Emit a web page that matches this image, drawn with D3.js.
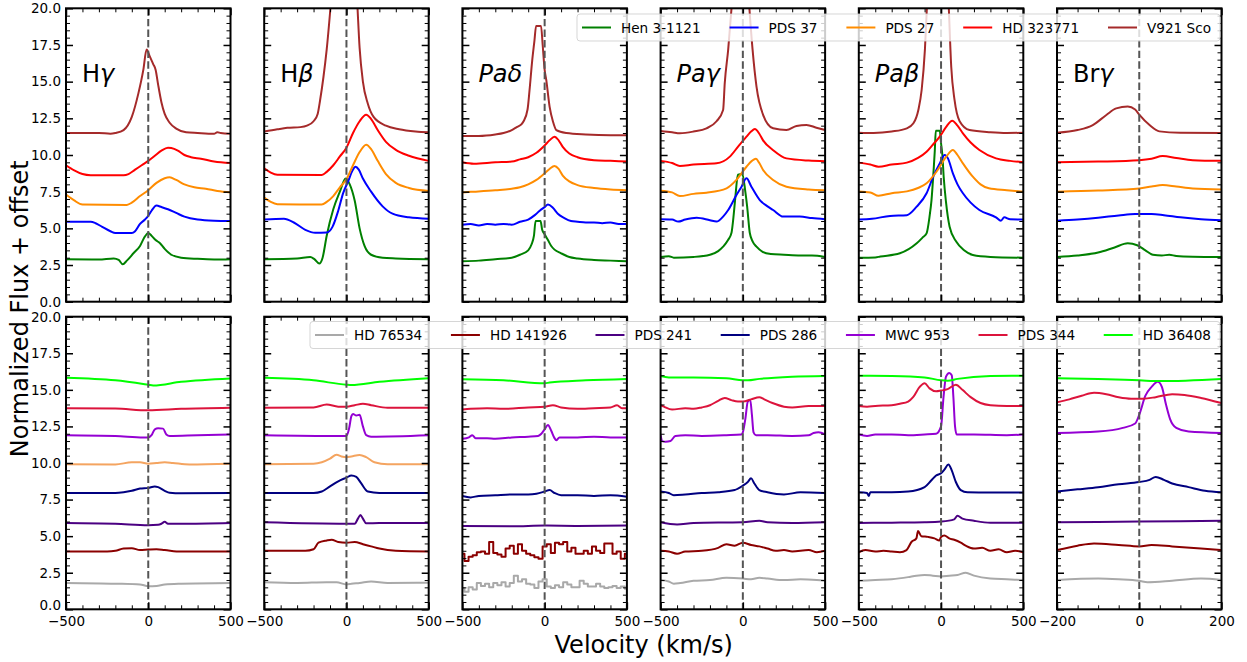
<!DOCTYPE html>
<html>
<head>
<meta charset="utf-8">
<script src="https://cdn.jsdelivr.net/npm/d3@7"></script>
<style>
  body { margin: 0; background: #fff; }
  svg { display: block; font-family: "DejaVu Sans", sans-serif; }
</style>
</head>
<body>
<svg id="chart" width="1247" height="662"></svg>
<script>
// ---------------- data: [velocity km/s, normalized flux + offset] ----------------
const lineTitlesPlain  = ["H", "H", "", "", "", "Br"];
const lineTitlesItalic = ["γ", "β", "Paδ", "Paγ", "Paβ", "γ"];
const velocityLimits   = [500, 500, 500, 500, 500, 200];
const yTickValues      = [0, 2.5, 5, 7.5, 10, 12.5, 15, 17.5, 20];

const topStars  = ["Hen 3-1121", "PDS 37", "PDS 27", "HD 323771", "V921 Sco"];
const topColors = ["green", "blue", "darkorange", "red", "brown"];
const bottomStars  = ["HD 76534", "HD 141926", "PDS 241", "PDS 286", "MWC 953", "PDS 344", "HD 36408"];
const bottomColors = ["darkgray", "darkred", "indigo", "navy", "darkviolet", "crimson", "lime"];
const extraColor = "sandybrown";

// H gamma, upper group
const HG_HEN  = [[-500,2.9],[-300,2.88],[-210,2.95],[-180,2.85],[-155,2.55],[-130,2.8],[-90,3.3],[-50,3.8],[-20,4.45],[0,4.68],[20,4.5],[45,4.2],[70,4.0],[100,3.6],[140,3.2],[200,3.0],[300,2.92],[400,2.88],[500,2.9]];
const HG_P37  = [[-500,5.45],[-350,5.45],[-320,5.35],[-280,5.1],[-230,4.8],[-200,4.68],[-100,4.68],[-80,4.8],[-50,5.3],[-20,5.6],[0,5.85],[20,6.2],[50,6.55],[80,6.45],[120,6.3],[170,6.05],[220,5.8],[300,5.6],[400,5.52],[500,5.5]];
const HG_P27  = [[-500,7.3],[-450,6.9],[-400,6.62],[-130,6.6],[-100,6.75],[-50,7.2],[0,7.6],[50,8.1],[100,8.42],[130,8.48],[170,8.3],[220,8.0],[280,7.8],[350,7.7],[420,7.55],[500,7.45]];
const HG_HD3  = [[-500,9.3],[-450,8.95],[-400,8.7],[-350,8.62],[-150,8.62],[-120,8.7],[-80,9.0],[-40,9.3],[0,9.6],[40,9.95],[80,10.3],[120,10.5],[140,10.48],[180,10.3],[220,10.0],[260,9.85],[320,9.75],[400,9.55],[500,9.45]];
const HG_V921 = [[-500,11.5],[-300,11.5],[-230,11.45],[-200,11.5],[-150,11.7],[-100,12.6],[-60,14.2],[-30,15.8],[-10,17.2],[10,16.7],[30,16.2],[45,15.8],[60,14.8],[80,13.6],[100,12.8],[130,12.2],[170,11.8],[230,11.55],[300,11.5],[400,11.45],[420,11.55],[440,11.5],[500,11.45]];

// H beta, upper group
const HB_HEN  = [[-500,2.9],[-300,2.95],[-220,3.05],[-195,2.9],[-165,2.6],[-145,3.0],[-120,4.5],[-80,6.3],[-40,7.5],[-5,8.4],[20,8.0],[50,6.9],[80,5.0],[110,3.8],[150,3.2],[220,3.0],[300,2.95],[500,2.9]];
const HB_P37  = [[-500,5.6],[-380,5.65],[-320,5.4],[-250,4.9],[-190,4.7],[-120,4.72],[-85,5.1],[-50,6.2],[-20,7.4],[10,8.2],[35,8.9],[55,9.2],[75,9.0],[100,8.4],[150,7.5],[220,6.5],[280,6.0],[380,5.75],[500,5.65]];
const HB_P27  = [[-500,7.1],[-460,6.8],[-420,6.65],[-150,6.62],[-120,6.8],[-80,7.2],[-40,7.8],[0,8.35],[40,9.3],[80,10.2],[120,10.7],[150,10.4],[190,9.6],[240,8.7],[300,8.1],[380,7.75],[500,7.55]];
const HB_HD3  = [[-500,9.1],[-460,8.8],[-420,8.65],[-150,8.64],[-120,8.85],[-80,9.3],[-40,9.9],[0,10.5],[40,11.5],[80,12.3],[120,12.75],[150,12.45],[190,11.7],[240,10.9],[300,10.35],[380,9.95],[500,9.6]];
const HB_V921 = [[-500,11.6],[-420,11.75],[-360,11.85],[-280,11.9],[-240,12.0],[-200,12.3],[-175,12.8],[-160,13.75],[-140,15.3],[-120,17.2],[-95,20.3],[-60,25],[0,28],[40,25],[65,20.5],[80,17.3],[100,15.0],[130,13.5],[165,12.6],[240,12.0],[320,11.75],[420,11.6],[500,11.55]];

// Pa delta, upper group
const PD_HEN  = [[-500,2.75],[-400,2.8],[-300,2.9],[-200,3.0],[-150,3.2],[-100,3.5],[-80,3.9],[-65,4.5],[-55,5.5],[-25,5.5],[-15,4.9],[0,4.6],[20,4.2],[40,3.8],[60,3.55],[100,3.3],[150,3.05],[200,2.95],[300,2.85],[400,2.8],[500,2.75]];
const PD_P37  = [[-500,5.25],[-450,5.3],[-400,5.2],[-350,5.3],[-300,5.25],[-250,5.3],[-200,5.25],[-150,5.45],[-100,5.6],[-60,5.9],[-30,6.2],[0,6.45],[20,6.62],[50,6.4],[80,6.0],[120,5.7],[160,5.5],[200,5.45],[250,5.4],[300,5.4],[350,5.35],[400,5.4],[450,5.3],[500,5.3]];
const PD_P27  = [[-500,7.45],[-430,7.5],[-300,7.6],[-200,7.7],[-150,7.8],[-100,8.0],[-50,8.3],[0,8.75],[30,9.05],[60,9.25],[85,9.05],[110,8.6],[150,8.2],[200,7.95],[300,7.75],[400,7.65],[500,7.6]];
const PD_HD3  = [[-500,9.5],[-430,9.4],[-300,9.5],[-200,9.55],[-150,9.7],[-100,9.85],[-50,10.15],[0,10.65],[30,11.0],[60,11.25],[85,11.0],[110,10.55],[150,10.1],[200,9.85],[300,9.65],[400,9.6],[500,9.55]];
const PD_V921 = [[-500,11.3],[-400,11.3],[-300,11.4],[-250,11.5],[-200,11.7],[-170,11.9],[-140,12.1],[-128,12.3],[-104,13.1],[-92,14.4],[-76,16.4],[-62,17.8],[-52,18.8],[-22,18.8],[-12,17.5],[0,15.8],[10,15.1],[30,13.3],[50,12.3],[71,11.7],[132,11.5],[250,11.4],[400,11.35],[500,11.35]];

// Pa gamma, upper group
const PG_HEN  = [[-500,3.05],[-450,3.1],[-420,3.0],[-300,3.05],[-200,3.2],[-150,3.45],[-120,3.75],[-90,4.2],[-69,4.7],[-55,6.0],[-45,7.2],[-30,8.65],[-3,8.7],[15,7.5],[26,6.5],[42,4.7],[60,4.1],[83,3.75],[120,3.4],[170,3.25],[250,3.2],[350,3.15],[420,3.15],[500,3.05]];
const PG_P37  = [[-500,5.62],[-430,5.6],[-393,5.46],[-350,5.6],[-281,5.72],[-200,5.55],[-160,5.46],[-120,5.8],[-89,6.25],[-39,7.27],[-8,7.84],[22,8.41],[52,7.84],[103,6.93],[150,6.5],[184,6.25],[245,5.8],[346,5.8],[420,5.7],[500,5.62]];
const PG_P27  = [[-500,7.57],[-430,7.45],[-383,7.2],[-300,7.35],[-221,7.43],[-99,7.73],[-39,8.3],[22,9.2],[55,9.6],[79,9.75],[100,9.45],[123,8.98],[184,8.3],[265,7.84],[400,7.65],[500,7.6]];
const PG_HD3  = [[-500,9.6],[-430,9.45],[-383,9.25],[-300,9.35],[-160,9.43],[-79,9.89],[-29,10.57],[22,11.25],[50,11.6],[73,11.77],[100,11.45],[123,11.0],[184,10.33],[265,9.77],[400,9.62],[500,9.58]];
const PG_V921 = [[-500,11.64],[-430,11.55],[-383,11.48],[-300,11.6],[-221,11.82],[-160,12.3],[-120,13.07],[-110,14.9],[-89,17.2],[-69,20],[-40,25],[0,28],[38,20.3],[59,17.2],[83,14.66],[123,12.74],[184,11.82],[265,11.7],[326,11.98],[387,12.05],[447,11.86],[500,11.7]];

// Pa beta, upper group
const PB_HEN  = [[-500,3.0],[-400,3.02],[-369,3.08],[-250,3.3],[-148,3.98],[-110,4.4],[-88,4.66],[-70,5.8],[-58,6.93],[-45,9.0],[-38,10.3],[-32,11.66],[-8,11.66],[0,10.8],[8,10.0],[16,8.52],[30,6.8],[52,5.11],[93,4.08],[140,3.5],[193,3.18],[300,3.05],[500,3.0]];
const PB_P37  = [[-500,5.6],[-420,5.65],[-310,5.85],[-208,5.9],[-148,6.48],[-88,7.39],[-48,8.52],[-8,9.43],[22,10.0],[42,9.77],[72,8.75],[100,8.0],[133,7.39],[180,6.75],[233,6.25],[334,5.75],[364,5.52],[384,5.75],[420,5.62],[500,5.6]];
const PB_P27  = [[-500,7.52],[-430,7.45],[-380,7.22],[-300,7.4],[-208,7.52],[-140,7.75],[-88,8.07],[-28,8.86],[32,9.89],[72,10.34],[100,10.0],[133,9.43],[193,8.52],[240,8.0],[291,7.73],[400,7.6],[500,7.5]];
const PB_HD3  = [[-500,9.48],[-430,9.35],[-380,9.2],[-300,9.35],[-208,9.48],[-140,9.8],[-88,10.22],[-50,10.7],[-8,11.25],[30,11.9],[68,12.34],[100,12.0],[133,11.48],[180,10.85],[233,10.34],[334,9.77],[420,9.6],[500,9.5]];
const PB_V921 = [[-500,11.52],[-410,11.5],[-300,11.6],[-208,11.82],[-168,12.16],[-138,13.07],[-118,14.43],[-98,17.2],[-85,20.3],[-50,25],[0,28],[46,20.3],[62,16.0],[82,13.75],[113,12.3],[173,11.7],[300,11.55],[400,11.5],[500,11.52]];

// Br gamma, upper group
const BG_HEN  = [[-200,3.05],[-150,3.15],[-100,3.35],[-60,3.7],[-28,3.98],[-5,3.85],[15,3.5],[33,3.2],[55,3.15],[73,3.2],[90,3.12],[130,3.07],[200,3.05]];
const BG_P37  = [[-200,5.52],[-150,5.6],[-100,5.72],[-50,5.88],[-10,5.98],[30,5.98],[60,5.9],[100,5.75],[150,5.62],[200,5.55]];
const BG_P27  = [[-200,7.5],[-100,7.58],[0,7.72],[30,7.85],[57,7.95],[90,7.85],[130,7.72],[200,7.65]];
const BG_HD3  = [[-200,9.5],[-100,9.55],[0,9.65],[30,9.75],[57,9.93],[90,9.8],[130,9.65],[200,9.6]];
const BG_V921 = [[-200,11.52],[-150,11.7],[-113,12.04],[-80,12.73],[-56,13.18],[-28,13.3],[-10,13.1],[0,12.75],[25,12.04],[49,11.61],[100,11.52],[200,11.5]];

// H gamma, lower group
const HG_76534  = [[-500,1.8],[-200,1.75],[-50,1.7],[0,1.58],[50,1.6],[100,1.7],[200,1.75],[500,1.8]];
const HG_141926 = [[-500,3.95],[-250,3.95],[-200,4.0],[-150,4.15],[-100,4.18],[-50,4.05],[0,4.08],[50,4.1],[100,4.05],[200,3.95],[500,3.95]];
const HG_241    = [[-500,5.9],[-200,5.85],[0,5.75],[60,5.78],[80,5.85],[100,5.98],[120,5.85],[200,5.85],[500,5.9]];
const HG_286    = [[-500,7.95],[-200,7.95],[-150,8.0],[-100,8.1],[-50,8.25],[0,8.3],[40,8.4],[60,8.35],[100,8.1],[130,7.97],[200,7.93],[500,7.95]];
const HG_953    = [[-500,11.9],[-200,11.85],[-30,11.75],[0,11.75],[20,11.9],[40,12.3],[60,12.37],[90,12.35],[110,11.95],[130,11.85],[300,11.9],[500,11.95]];
const HG_344    = [[-500,13.75],[-200,13.72],[0,13.6],[200,13.7],[500,13.78]];
const HG_36408  = [[-500,15.83],[-200,15.65],[0,15.35],[30,15.3],[200,15.55],[500,15.78]];
const HG_EXTRA  = [[-500,9.92],[-200,9.9],[-100,10.05],[-50,10.05],[0,9.95],[50,10.0],[100,10.05],[150,10.0],[250,9.9],[500,9.95]];

// H beta, lower group
const HB_76534  = [[-500,1.85],[-300,1.8],[-120,1.85],[-60,1.85],[0,1.7],[30,1.75],[80,1.8],[150,1.9],[250,1.8],[500,1.82]];
const HB_141926 = [[-500,4.0],[-250,4.0],[-200,4.1],[-170,4.55],[-120,4.7],[-90,4.75],[-50,4.6],[0,4.55],[50,4.6],[100,4.45],[150,4.3],[200,4.15],[300,4.0],[500,3.95]];
const HB_241    = [[-500,5.95],[0,5.85],[50,5.85],[70,6.2],[85,6.45],[100,6.2],[120,5.88],[200,5.9],[500,5.9]];
const HB_286    = [[-500,7.95],[-200,7.95],[-150,8.05],[-100,8.4],[-50,8.75],[0,9.0],[30,9.15],[60,9.05],[90,8.6],[130,8.05],[200,7.95],[500,7.95]];
const HB_953    = [[-500,11.9],[-50,11.85],[0,11.85],[15,12.3],[30,13.2],[40,13.35],[60,13.25],[80,13.3],[100,12.5],[120,11.9],[150,11.8],[500,11.9]];
const HB_344    = [[-500,13.78],[-200,13.8],[-120,14.0],[-50,13.85],[0,13.85],[50,13.95],[100,14.05],[150,13.95],[250,13.78],[500,13.78]];
const HB_36408  = [[-500,15.82],[-200,15.65],[0,15.35],[30,15.33],[200,15.55],[500,15.8]];
const HB_EXTRA  = [[-500,9.92],[-200,9.95],[-150,10.05],[-100,10.3],[-60,10.57],[-30,10.45],[0,10.4],[30,10.45],[80,10.55],[120,10.4],[170,10.05],[250,9.92],[500,9.92]];

// Pa delta, lower group (the two faint stars are noisy, sampled every 25 km/s)
const PD_76534  = [[-500,1.45],[-475,1.2],[-450,1.5],[-425,1.35],[-400,1.8],[-375,1.6],[-350,1.75],[-325,1.5],[-300,1.8],[-275,1.65],[-250,1.85],[-225,1.55],[-200,1.8],[-175,2.3],[-150,1.9],[-125,2.05],[-100,1.75],[-75,1.7],[-50,1.45],[-25,1.9],[0,2.05],[25,1.55],[50,1.45],[75,1.65],[100,1.5],[125,1.85],[150,1.7],[175,1.5],[200,1.5],[225,1.95],[250,1.75],[275,1.55],[300,1.55],[325,1.75],[350,1.55],[375,1.45],[400,1.5],[425,1.6],[450,1.45],[475,1.55],[500,1.4]];
const PD_141926 = [[-500,3.8],[-475,3.3],[-450,3.6],[-425,3.7],[-400,3.9],[-375,3.95],[-350,3.8],[-325,4.6],[-300,3.85],[-275,3.75],[-250,3.6],[-225,4.15],[-200,4.35],[-175,3.8],[-150,4.45],[-125,4.0],[-100,3.8],[-75,3.7],[-50,3.55],[-25,3.45],[0,4.3],[25,4.45],[50,3.85],[75,4.55],[100,4.45],[125,4.6],[150,3.95],[175,4.2],[200,3.8],[225,3.8],[250,4.0],[275,3.8],[300,4.3],[325,4.0],[350,3.85],[375,4.5],[400,4.5],[425,3.8],[450,3.95],[475,3.45],[500,3.8]];
const PD_241    = [[-500,5.7],[-200,5.68],[0,5.72],[200,5.7],[500,5.72]];
const PD_286    = [[-500,7.75],[-450,7.65],[-400,7.75],[-300,7.8],[-200,7.85],[-100,7.85],[-50,7.9],[0,8.05],[30,8.15],[60,7.95],[100,7.8],[200,7.8],[300,7.75],[400,7.8],[500,7.7]];
const PD_953    = [[-500,11.65],[-460,11.75],[-440,11.9],[-420,11.7],[-350,11.7],[-300,11.65],[-200,11.75],[-100,11.8],[-40,11.85],[-20,12.0],[0,12.3],[20,12.6],[40,12.2],[60,11.7],[70,11.55],[90,11.75],[200,11.75],[300,11.8],[400,11.75],[500,11.75]];
const PD_344    = [[-500,13.65],[-450,13.7],[-350,13.75],[-250,13.7],[-100,13.8],[0,13.85],[50,13.95],[100,13.8],[200,13.7],[300,13.75],[400,13.8],[440,13.95],[470,13.75],[500,13.75]];
const PD_36408  = [[-500,15.72],[-250,15.65],[0,15.45],[30,15.5],[250,15.65],[500,15.75]];

// Pa gamma, lower group
const PG_76534  = [[-500,2.0],[-450,1.9],[-420,1.75],[-380,1.8],[-300,1.95],[-200,2.0],[-100,2.15],[0,2.1],[50,2.05],[100,2.15],[150,2.1],[250,2.0],[350,2.05],[450,2.0],[500,1.95]];
const PG_141926 = [[-500,4.0],[-450,3.95],[-400,3.8],[-350,3.95],[-250,4.0],[-150,4.2],[-100,4.45],[-50,4.35],[0,4.55],[50,4.4],[100,4.3],[150,4.15],[200,4.0],[250,4.05],[300,3.95],[400,4.05],[450,3.9],[500,4.0]];
const PG_241    = [[-500,5.95],[-400,5.8],[-300,5.9],[0,5.95],[100,6.05],[150,5.95],[300,5.9],[500,5.95]];
const PG_286    = [[-500,8.05],[-450,7.95],[-420,7.8],[-350,7.85],[-250,7.95],[-150,8.0],[-50,8.15],[0,8.45],[30,8.7],[50,8.95],[70,8.6],[100,8.15],[150,8.0],[250,7.85],[350,8.0],[500,7.95]];
const PG_953    = [[-500,11.9],[-490,11.5],[-470,11.45],[-440,11.5],[-410,11.85],[-350,11.9],[-250,11.85],[-100,11.9],[-10,11.95],[0,12.1],[15,13.0],[30,14.2],[45,14.3],[55,13.3],[65,12.1],[80,11.9],[150,11.9],[300,11.85],[400,11.9],[430,12.05],[460,12.1],[500,11.95]];
const PG_344    = [[-500,13.95],[-480,13.85],[-430,13.65],[-350,13.75],[-300,13.7],[-250,13.8],[-200,13.95],[-150,14.25],[-110,14.45],[-70,14.3],[-30,14.2],[0,14.2],[50,14.35],[100,14.5],[130,14.35],[180,14.1],[250,13.85],[300,13.8],[400,13.9],[500,13.9]];
const PG_36408  = [[-500,15.95],[-450,15.85],[-300,15.85],[-100,15.8],[0,15.65],[30,15.65],[100,15.75],[300,15.9],[500,15.95]];

// Pa beta, lower group
const PB_76534  = [[-500,1.95],[-400,2.0],[-300,2.05],[-200,2.2],[-150,2.3],[-100,2.35],[-50,2.3],[0,2.25],[50,2.3],[100,2.35],[150,2.5],[200,2.3],[300,2.1],[400,2.05],[500,2.0]];
const PB_141926 = [[-500,3.9],[-460,4.05],[-400,3.95],[-350,4.0],[-300,3.95],[-250,3.9],[-210,4.05],[-180,4.6],[-150,4.85],[-140,5.35],[-120,5.0],[-80,4.95],[-40,4.85],[-10,4.7],[0,4.95],[20,5.05],[50,4.85],[80,4.75],[120,4.55],[150,4.35],[200,4.15],[250,4.2],[300,4.0],[350,4.1],[400,3.9],[450,4.0],[500,3.9]];
const PB_241    = [[-500,5.9],[-300,5.92],[-100,5.95],[0,6.0],[80,6.15],[100,6.4],[130,6.2],[200,6.05],[300,5.92],[500,5.92]];
const PB_286    = [[-500,8.0],[-450,7.95],[-440,7.75],[-430,8.0],[-300,8.0],[-200,8.05],[-100,8.35],[-60,8.8],[-30,9.15],[0,9.3],[20,9.55],[45,9.9],[65,9.5],[90,8.7],[120,8.15],[160,8.0],[300,7.98],[500,7.98]];
const PB_953    = [[-500,11.95],[-450,11.85],[-400,11.95],[-300,11.95],[-200,11.9],[-100,11.95],[-30,12.0],[0,12.5],[15,14.5],[30,15.9],[50,16.15],[65,16.0],[75,14.5],[85,12.5],[95,11.95],[200,11.95],[400,11.9],[500,11.95]];
const PB_344    = [[-500,13.9],[-450,13.85],[-400,13.9],[-300,13.95],[-250,14.05],[-200,14.2],[-170,14.5],[-130,15.2],[-100,15.45],[-70,15.1],[-30,14.9],[0,14.95],[40,15.05],[90,15.35],[130,15.0],[180,14.5],[240,14.1],[300,13.95],[400,13.9],[500,13.9]];
const PB_36408  = [[-500,15.97],[-300,15.95],[-100,15.85],[0,15.65],[40,15.62],[100,15.75],[300,15.95],[500,15.97]];

// Br gamma, lower group
const BG_76534  = [[-200,2.0],[-100,2.1],[-50,2.05],[0,1.95],[20,1.85],[80,1.95],[150,2.1],[200,2.0]];
const BG_141926 = [[-200,4.05],[-150,4.35],[-110,4.5],[-50,4.4],[0,4.3],[30,4.4],[80,4.3],[150,4.15],[200,4.05]];
const BG_241    = [[-200,5.95],[0,6.0],[200,6.05]];
const BG_286    = [[-200,8.05],[-150,8.2],[-100,8.35],[-50,8.55],[0,8.7],[25,8.85],[40,9.05],[60,8.85],[80,8.6],[120,8.35],[160,8.1],[200,8.0]];
const BG_953    = [[-200,12.05],[-100,12.15],[-40,12.4],[-10,12.7],[0,13.3],[15,14.6],[30,15.2],[45,15.55],[55,15.2],[65,14.0],[75,13.0],[90,12.4],[120,12.15],[200,12.05]];
const BG_344    = [[-200,14.15],[-170,14.35],[-140,14.6],[-110,14.8],[-80,14.7],[-50,14.5],[-20,14.4],[10,14.4],[40,14.5],[80,14.7],[110,14.65],[150,14.45],[200,14.1]];
const BG_36408  = [[-200,15.8],[-100,15.75],[0,15.65],[50,15.6],[200,15.75]];

// one row per star, one entry per spectral line (null = not observed)
const topSeries = [
  [HG_HEN,  HB_HEN,  PD_HEN,  PG_HEN,  PB_HEN,  BG_HEN],
  [HG_P37,  HB_P37,  PD_P37,  PG_P37,  PB_P37,  BG_P37],
  [HG_P27,  HB_P27,  PD_P27,  PG_P27,  PB_P27,  BG_P27],
  [HG_HD3,  HB_HD3,  PD_HD3,  PG_HD3,  PB_HD3,  BG_HD3],
  [HG_V921, HB_V921, PD_V921, PG_V921, PB_V921, BG_V921]
];
const bottomSeries = [
  [HG_76534,  HB_76534,  PD_76534,  PG_76534,  PB_76534,  BG_76534],
  [HG_141926, HB_141926, PD_141926, PG_141926, PB_141926, BG_141926],
  [HG_241,    HB_241,    PD_241,    PG_241,    PB_241,    BG_241],
  [HG_286,    HB_286,    PD_286,    PG_286,    PB_286,    BG_286],
  [HG_953,    HB_953,    PD_953,    PG_953,    PB_953,    BG_953],
  [HG_344,    HB_344,    PD_344,    PG_344,    PB_344,    BG_344],
  [HG_36408,  HB_36408,  PD_36408,  PG_36408,  PB_36408,  BG_36408]
];
const extraSeries = [HG_EXTRA, HB_EXTRA, null, null, null, null];
// series sampled on a regular grid and drawn as steps
const steppedSeries = new Set([PD_76534, PD_141926]);

// ---------------- layout ----------------
const colLeft0 = 66, colStep = 198.2, panelW = 164.5;
const rowBox = [{ top: 8.3, bottom: 301.7 }, { top: 316.7, bottom: 609.3 }];
const tickFont = 13.5;

const svg = d3.select("#chart");
const defs = svg.append("defs");
const plotLayer = svg.append("g");
const legendLayer = svg.append("g");

function drawPanel(r, c) {
  const x0 = colLeft0 + c * colStep, x1 = x0 + panelW;
  const { top, bottom } = rowBox[r];
  const vmax = velocityLimits[c];
  const x = d3.scaleLinear().domain([-vmax, vmax]).range([x0, x1]);
  const y = d3.scaleLinear().domain([0, 20]).range([bottom, top]);
  const g = plotLayer.append("g");

  const clipId = `clip-${r}-${c}`;
  defs.append("clipPath").attr("id", clipId)
    .append("rect").attr("x", x0).attr("y", top).attr("width", panelW).attr("height", bottom - top);

  const lines = g.append("g").attr("clip-path", `url(#${clipId})`);
  const smooth = d3.line().x(d => x(d[0])).y(d => y(d[1])).curve(d3.curveMonotoneX);
  const stepped = d3.line().x(d => x(d[0])).y(d => y(d[1])).curve(d3.curveStep);

  const list = [];
  if (r === 0) {
    topSeries.forEach((row, i) => list.push({ data: row[c], color: topColors[i] }));
  } else {
    if (extraSeries[c]) list.push({ data: extraSeries[c], color: extraColor });
    bottomSeries.forEach((row, i) => list.push({ data: row[c], color: bottomColors[i] }));
  }
  list.filter(s => s.data).forEach(s => {
    lines.append("path")
      .attr("d", (steppedSeries.has(s.data) ? stepped : smooth)(s.data))
      .attr("fill", "none").attr("stroke", s.color)
      .attr("stroke-width", 2).attr("stroke-linejoin", "round");
  });

  // rest-velocity marker
  lines.append("line")
    .attr("x1", x(0)).attr("x2", x(0)).attr("y1", top).attr("y2", bottom)
    .attr("stroke", "#555").attr("stroke-width", 2).attr("stroke-dasharray", "7.4,3.2");

  // ticks on all four sides, pointing inwards
  const minorStepX = vmax === 200 ? 50 : 100;
  const xMajor = [-vmax, 0, vmax];
  const xMinor = d3.range(-vmax, vmax + 1, minorStepX).filter(v => !xMajor.includes(v));
  const yMinor = d3.range(0, 20.001, 0.5).filter(v => !yTickValues.includes(v));

  function styleAxis(sel, width) {
    sel.select(".domain").remove();
    sel.attr("font-size", tickFont).attr("font-family", "DejaVu Sans, sans-serif");
    sel.selectAll(".tick line").attr("stroke-width", width);
    sel.selectAll(".tick text").attr("fill", "#000");
  }

  const showX = r === 1, showY = c === 0;
  const xFmt = d3.format("d"), yFmt = d3.format(".1f");

  g.append("g").attr("transform", `translate(0,${bottom})`)
    .call(d3.axisBottom(x).tickValues(xMinor).tickSizeInner(-4).tickSizeOuter(0).tickFormat(() => ""))
    .call(s => styleAxis(s, 1));
  g.append("g").attr("transform", `translate(0,${bottom})`)
    .call(d3.axisBottom(x).tickValues(xMajor).tickSizeInner(-7).tickSizeOuter(0).tickPadding(7)
      .tickFormat(showX ? xFmt : () => ""))
    .call(s => styleAxis(s, 1.5));
  g.append("g").attr("transform", `translate(0,${top})`)
    .call(d3.axisTop(x).tickValues(xMinor).tickSizeInner(-4).tickSizeOuter(0).tickFormat(() => ""))
    .call(s => styleAxis(s, 1));
  g.append("g").attr("transform", `translate(0,${top})`)
    .call(d3.axisTop(x).tickValues(xMajor).tickSizeInner(-7).tickSizeOuter(0).tickFormat(() => ""))
    .call(s => styleAxis(s, 1.5));

  g.append("g").attr("transform", `translate(${x0},0)`)
    .call(d3.axisLeft(y).tickValues(yMinor).tickSizeInner(-4).tickSizeOuter(0).tickFormat(() => ""))
    .call(s => styleAxis(s, 1));
  const yMajorAxis = g.append("g").attr("transform", `translate(${x0},0)`)
    .call(d3.axisLeft(y).tickValues(yTickValues).tickSizeInner(-7).tickSizeOuter(0).tickPadding(5)
      .tickFormat(showY ? yFmt : () => ""))
    .call(s => styleAxis(s, 1.5));
  // lift the lowest label of the lower row so it clears the velocity labels beneath
  if (showY && showX) {
    yMajorAxis.selectAll(".tick").filter(d => d === 0).select("text").attr("dy", "0.05em");
  }
  g.append("g").attr("transform", `translate(${x1},0)`)
    .call(d3.axisRight(y).tickValues(yMinor).tickSizeInner(-4).tickSizeOuter(0).tickFormat(() => ""))
    .call(s => styleAxis(s, 1));
  g.append("g").attr("transform", `translate(${x1},0)`)
    .call(d3.axisRight(y).tickValues(yTickValues).tickSizeInner(-7).tickSizeOuter(0).tickFormat(() => ""))
    .call(s => styleAxis(s, 1.5));

  g.append("rect").attr("x", x0).attr("y", top).attr("width", panelW).attr("height", bottom - top)
    .attr("fill", "none").attr("stroke", "#000").attr("stroke-width", 2);

  if (r === 0) {
    const t = g.append("text").attr("x", x0 + 16).attr("y", 82).attr("font-size", 24).attr("fill", "#000");
    if (lineTitlesPlain[c]) t.append("tspan").text(lineTitlesPlain[c]);
    t.append("tspan").attr("font-style", "italic").text(lineTitlesItalic[c]);
  }
}

for (let r = 0; r < 2; r++) for (let c = 0; c < 6; c++) drawPanel(r, c);

// axis titles
svg.append("text").attr("x", colLeft0 + (5 * colStep + panelW) / 2).attr("y", 653)
  .attr("text-anchor", "middle").attr("font-size", 24).attr("fill", "#000")
  .text("Velocity (km/s)");
svg.append("text").attr("transform", `translate(28,${(rowBox[0].top + rowBox[1].bottom) / 2}) rotate(-90)`)
  .attr("text-anchor", "middle").attr("font-size", 24).attr("fill", "#000")
  .text("Normalized Flux + offset");

// legends
function drawLegend(names, colors, left, right, cy) {
  const fs = 13.6, handle = 29, hpad = 10, pad = 5, h = 27;
  const g = legendLayer.append("g");
  g.append("rect").attr("y", cy - h / 2).attr("height", h)
    .attr("x", left).attr("width", right - left).attr("rx", 3)
    .attr("fill", "rgba(255,255,255,0.8)").attr("stroke", "rgba(204,204,204,0.8)").attr("stroke-width", 1);
  const texts = names.map(n => g.append("text").attr("font-size", fs).attr("fill", "#000")
    .attr("dominant-baseline", "central").attr("y", cy).text(n));
  const widths = texts.map(t => t.node().getComputedTextLength());
  const inner = d3.sum(widths) + names.length * (handle + hpad);
  const gap = (right - left - 2 * pad - inner - 4) / (names.length - 1);
  let xc = left + pad;
  names.forEach((n, i) => {
    g.append("line").attr("x1", xc).attr("x2", xc + handle).attr("y1", cy).attr("y2", cy)
      .attr("stroke", colors[i]).attr("stroke-width", 2);
    texts[i].attr("x", xc + handle + hpad);
    xc += handle + hpad + widths[i] + gap;
  });
}
drawLegend(topStars, topColors, 577, 1220, 27.5);
drawLegend(bottomStars, bottomColors, 310, 1220, 335);
</script>
</body>
</html>
